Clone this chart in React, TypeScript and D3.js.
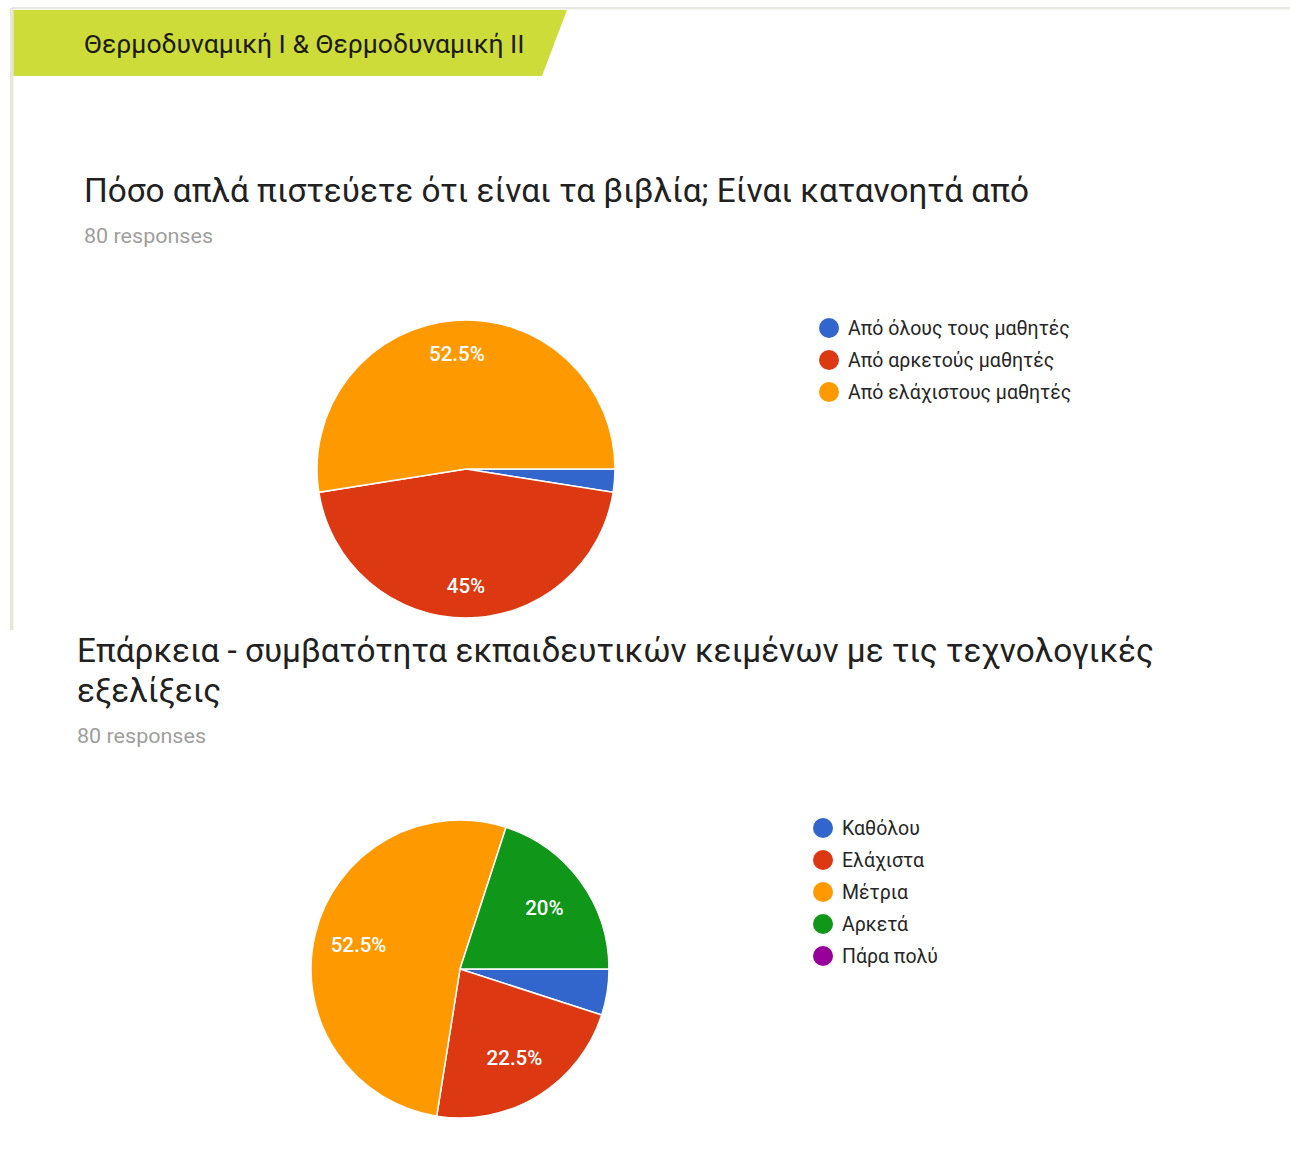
import React from "react";
import * as d3 from "d3";

const headerTitle = "Θερμοδυναμική I & Θερμοδυναμική II";

const q1Title = "Πόσο απλά πιστεύετε ότι είναι τα βιβλία; Είναι κατανοητά από";
const q1Responses = "80 responses";
const q1Categories = ["Από όλους τους μαθητές", "Από αρκετούς μαθητές", "Από ελάχιστους μαθητές"];
const q1Values = [2.5, 45, 52.5];

const q2TitleLines = ["Επάρκεια - συμβατότητα εκπαιδευτικών κειμένων με τις τεχνολογικές", "εξελίξεις"];
const q2Responses = "80 responses";
const q2Categories = ["Καθόλου", "Ελάχιστα", "Μέτρια", "Αρκετά", "Πάρα πολύ"];
const q2Values = [5, 22.5, 52.5, 20, 0];

const palette = ["#3366cc", "#dc3912", "#ff9900", "#109618", "#990099"];

const FONT = "Roboto, 'Noto Sans', Arial, sans-serif";

type PieProps = {
  cx: number;
  cy: number;
  r: number;
  labelFrac: number;
  categories: string[];
  values: number[];
  legendX: number;
  legendY: number;
};

function Pie({ cx, cy, r, labelFrac, categories, values, legendX, legendY }: PieProps) {
  const data = categories.map((c, i) => ({ c, v: values[i], i }));
  const pie = d3
    .pie<{ c: string; v: number; i: number }>()
    .value((d) => d.v)
    .sort(null)
    .startAngle(Math.PI / 2)
    .endAngle(Math.PI / 2 + 2 * Math.PI);
  const arcs = pie(data);
  const arc = d3.arc<d3.PieArcDatum<{ c: string; v: number; i: number }>>().innerRadius(0).outerRadius(r);
  const labelArc = d3
    .arc<d3.PieArcDatum<{ c: string; v: number; i: number }>>()
    .innerRadius(r * labelFrac)
    .outerRadius(r * labelFrac);
  const color = d3.scaleOrdinal<number, string>().domain(d3.range(palette.length)).range(palette);
  const legendStep = 32;
  return (
    <g>
      <g transform={`translate(${cx},${cy})`}>
        {arcs
          .filter((a) => a.data.v > 0)
          .map((a) => (
            <path key={a.data.c} d={arc(a) || ""} fill={color(a.data.i)} stroke="#ffffff" strokeWidth={1.5} />
          ))}
        {arcs
          .filter((a) => a.data.v >= 10)
          .map((a) => {
            const [x, y] = labelArc.centroid(a);
            return (
              <text
                key={"l" + a.data.c}
                x={x}
                y={y}
                dy="0.36em"
                textAnchor="middle"
                fill="#ffffff"
                fontFamily={FONT}
                fontWeight={500}
                fontSize={20.5}
              >
                {d3.format(".3~")(a.data.v) + "%"}
              </text>
            );
          })}
      </g>
      {categories.map((c, i) => (
        <g key={"lg" + c} transform={`translate(${legendX},${legendY + i * legendStep})`}>
          <circle cx={0} cy={0} r={10} fill={color(i)} />
          <text x={19} y={0} dy="0.35em" fontFamily={FONT} fontSize={19.5} fill="#262626">
            {c}
          </text>
        </g>
      ))}
    </g>
  );
}

export default function App() {
  return (
    <svg
      width={1290}
      height={1175}
      style={{ position: "absolute", left: 0, top: 0, background: "#ffffff" }}
    >
      <rect x={0} y={0} width={1290} height={1175} fill="#ffffff" />
      {/* card borders */}
      <rect x={12} y={7} width={1278} height={2.5} fill="#e9e9e4" />
      <rect x={10} y={8} width={3.5} height={622} fill="#e6e8d6" />
      {/* header tab */}
      <polygon points="13.5,10 567,10 542,76 13.5,76" fill="#cddc39" />
      <text x={84} y={53} fontFamily={FONT} fontSize={26.5} fill="#1a1a1a">
        {headerTitle}
      </text>

      {/* question 1 */}
      <text x={84} y={202} fontFamily={FONT} fontSize={33.3} fill="#212121">
        {q1Title}
      </text>
      <text x={84} y={243} fontFamily={FONT} fontSize={20} fill="#9e9e9e" textLength={129} lengthAdjust="spacingAndGlyphs">
        {q1Responses}
      </text>
      <Pie cx={466} cy={469} r={149} labelFrac={0.78} categories={q1Categories} values={q1Values} legendX={829} legendY={328} />

      {/* question 2 */}
      {q2TitleLines.map((t, i) => (
        <text key={t} x={77} y={662 + i * 40} fontFamily={FONT} fontSize={33.3} fill="#212121">
          {t}
        </text>
      ))}
      <text x={77} y={743} fontFamily={FONT} fontSize={20} fill="#9e9e9e" textLength={129} lengthAdjust="spacingAndGlyphs">
        {q2Responses}
      </text>
      <Pie cx={460} cy={969} r={149} labelFrac={0.7} categories={q2Categories} values={q2Values} legendX={823} legendY={828} />
    </svg>
  );
}
